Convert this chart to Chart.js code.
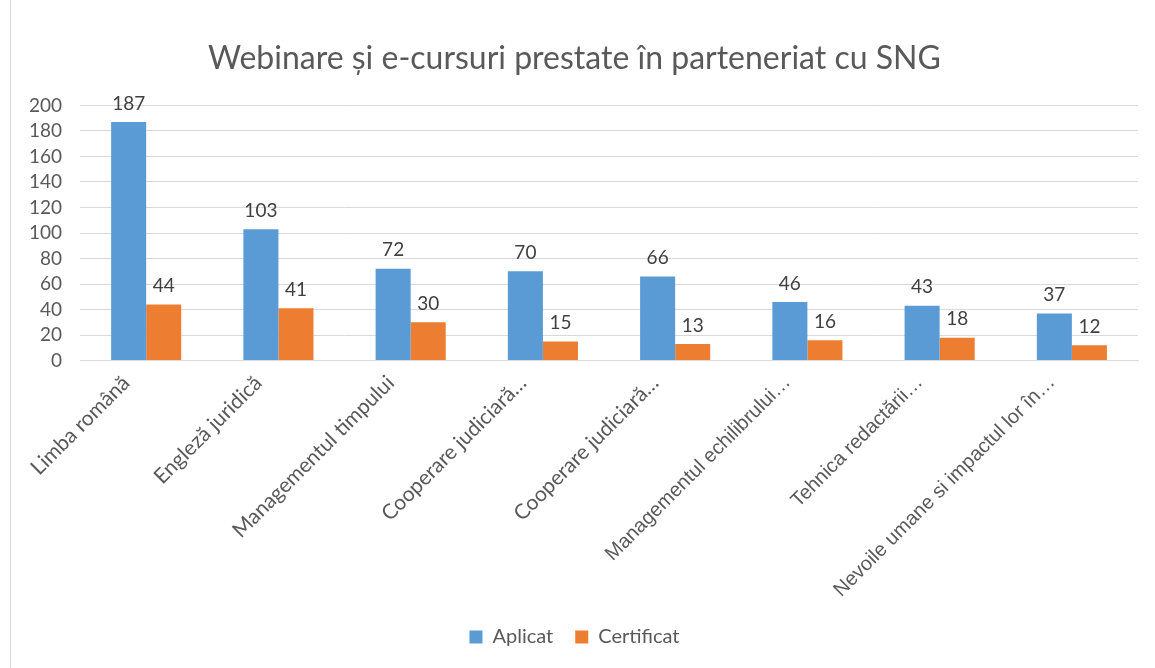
<!DOCTYPE html>
<html>
<head>
<meta charset="utf-8">
<script src="https://cdn.jsdelivr.net/npm/chart.js@4"></script>
<style>
  body { margin: 0; background: #fff; }
  #wrap { position: absolute; left: 10px; top: -1px; width: 1160px; height: 670px; border: 1px solid #d9d9d9; box-sizing: border-box; }
  canvas { position: absolute; left: -11px; top: 1px; }
</style>
</head>
<body>
<div id="wrap"><canvas id="barChart" width="1155" height="668"></canvas></div>
<script>
const categories = [
    'Limba română',
    'Engleză juridică',
    'Managementul timpului',
    'Cooperare judiciară…',
    'Cooperare judiciară…',
    'Managementul echilibrului…',
    'Tehnica redactării…',
    'Nevoile umane si impactul lor în…'
];
const aplicat = [187, 103, 72, 70, 66, 46, 43, 37];
const certificat = [44, 41, 30, 15, 13, 16, 18, 12];
const yTicks = { min: 0, max: 200, step: 20 };

// Etichete cu valori deasupra barelor
const valueLabels = {
    id: 'valueLabels',
    afterDatasetsDraw(chart) {
        const ctx = chart.ctx;
        ctx.save();
        ctx.font = '19px Lato';
        ctx.fillStyle = '#404040';
        ctx.textAlign = 'center';
        ctx.textBaseline = 'bottom';
        chart.data.datasets.forEach((ds, i) => {
            chart.getDatasetMeta(i).data.forEach((bar, j) => {
                ctx.fillText(ds.data[j], bar.x, bar.y - 9);
            });
        });
        ctx.restore();
    }
};

const ctx = document.getElementById('barChart').getContext('2d');
new Chart(ctx, {
    type: 'bar',
    data: {
        labels: categories,
        datasets: [{
            label: 'Aplicat',
            data: aplicat,
            backgroundColor: '#5b9bd5'
        }, {
            label: 'Certificat',
            data: certificat,
            backgroundColor: '#ed7d31'
        }]
    },
    options: {
        responsive: false,
        animation: false,
        layout: { padding: { left: 11, right: 17, top: 24, bottom: 12 } },
        categoryPercentage: 0.53,
        barPercentage: 1,
        plugins: {
            title: {
                display: true,
                text: 'Webinare și e-cursuri prestate în parteneriat cu SNG',
                color: '#595959',
                font: { family: 'Lato', size: 32, weight: 'normal' },
                padding: { top: 14, bottom: 28 }
            },
            legend: {
                position: 'bottom',
                labels: {
                    color: '#595959',
                    font: { family: 'Lato', size: 20 },
                    boxWidth: 13,
                    boxHeight: 13,
                    padding: 22
                }
            },
            tooltip: { enabled: false }
        },
        scales: {
            x: {
                grid: { display: false },
                border: { color: '#d9d9d9' },
                ticks: {
                    color: '#595959',
                    autoSkip: false,
                    minRotation: 45,
                    maxRotation: 45,
                    padding: 2,
                    labelOffset: -20,
                    font: (c) => c.index < 5
                        ? { family: 'Lato', size: 21 }
                        : { family: 'Liberation Sans', size: 20 }
                }
            },
            y: {
                min: yTicks.min,
                max: yTicks.max,
                grid: { color: '#d9d9d9', drawTicks: false },
                border: { display: false },
                ticks: {
                    stepSize: yTicks.step,
                    autoSkip: false,
                    color: '#595959',
                    padding: 18,
                    font: { family: 'Lato', size: 19 }
                }
            }
        }
    },
    plugins: [valueLabels]
});
</script>
</body>
</html>
